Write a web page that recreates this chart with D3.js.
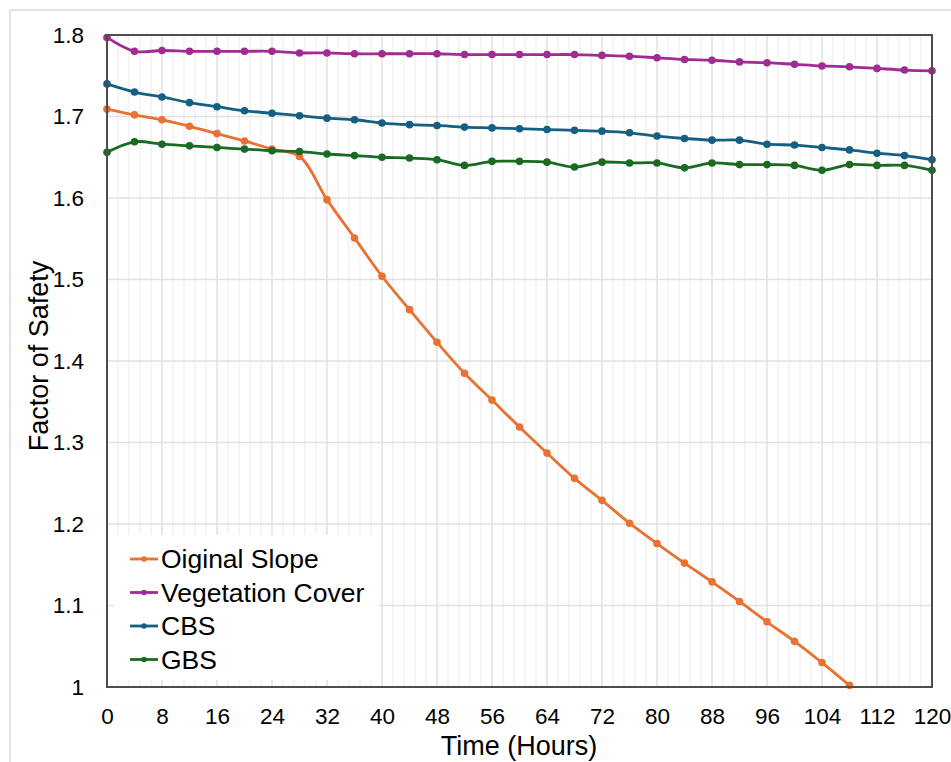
<!DOCTYPE html>
<html>
<head>
<meta charset="utf-8">
<script src="https://cdn.jsdelivr.net/npm/d3@7"></script>
<style>
  body { margin: 0; background: #fff; }
  text { font-family: "Liberation Sans", Arial, sans-serif; fill: #000; }
</style>
</head>
<body>
<div id="chart"></div>
<script>
// data
var hours = [0, 4, 8, 12, 16, 20, 24, 28, 32, 36, 40, 44, 48, 52, 56, 60, 64, 68, 72, 76, 80, 84, 88, 92, 96, 100, 104, 108, 112, 116, 120];

var originalSlope = [1.709, 1.702, 1.696, 1.688, 1.679, 1.670, 1.660, 1.651, 1.598, 1.551, 1.504, 1.463, 1.423, 1.385, 1.352, 1.319, 1.287, 1.256, 1.229, 1.201, 1.176, 1.152, 1.129, 1.105, 1.080, 1.056, 1.030, 1.002];
var vegetationCover = [1.797, 1.780, 1.781, 1.780, 1.780, 1.780, 1.780, 1.778, 1.778, 1.777, 1.777, 1.777, 1.777, 1.776, 1.776, 1.776, 1.776, 1.776, 1.775, 1.774, 1.772, 1.770, 1.769, 1.767, 1.766, 1.764, 1.762, 1.761, 1.759, 1.757, 1.756];
var cbs = [1.740, 1.730, 1.724, 1.717, 1.712, 1.707, 1.704, 1.701, 1.698, 1.696, 1.692, 1.690, 1.689, 1.687, 1.686, 1.685, 1.684, 1.683, 1.682, 1.680, 1.676, 1.673, 1.671, 1.671, 1.666, 1.665, 1.662, 1.659, 1.655, 1.652, 1.647];
var gbs = [1.656, 1.669, 1.666, 1.664, 1.662, 1.660, 1.658, 1.657, 1.654, 1.652, 1.650, 1.649, 1.647, 1.640, 1.645, 1.645, 1.644, 1.638, 1.644, 1.643, 1.643, 1.637, 1.643, 1.641, 1.641, 1.640, 1.634, 1.641, 1.640, 1.640, 1.634];

var seriesNames = ["Oiginal Slope", "Vegetation Cover", "CBS", "GBS"];
var seriesValues = [originalSlope, vegetationCover, cbs, gbs];
var seriesColors = ["#E97132", "#A02B93", "#156082", "#196B24"];

var xTicks = [0, 8, 16, 24, 32, 40, 48, 56, 64, 72, 80, 88, 96, 104, 112, 120];
var yTicks = [1, 1.1, 1.2, 1.3, 1.4, 1.5, 1.6, 1.7, 1.8];

//svg and chart area
var svgWidth = 951;
var svgHeight = 762;

var margin = {
    top: 35,
    right: 19,
    bottom: 75,
    left: 107
};

var width = svgWidth - margin.left - margin.right;
var height = svgHeight - margin.top - margin.bottom;

var svg = d3.select("#chart")
    .append("svg")
    .attr("width", svgWidth)
    .attr("height", svgHeight);

// outer chart frame (runs off the page on the right and bottom)
svg.append("rect")
    .attr("x", 10)
    .attr("y", 10)
    .attr("width", 1000)
    .attr("height", 800)
    .attr("fill", "none")
    .attr("stroke", "#d9d9d9")
    .attr("stroke-width", 1.5);

var chartGroup = svg.append("g")
    .attr("transform", `translate(${margin.left}, ${margin.top})`);

var xScale = d3.scaleLinear()
    .domain([0, 120])
    .range([0, width]);

var yScale = d3.scaleLinear()
    .domain([1, 1.8])
    .range([height, 0]);

// minor vertical gridlines (major / 5)
var minorTicks = d3.range(0, 76).map(i => i * 1.6);
chartGroup.append("g")
    .selectAll("line")
    .data(minorTicks)
    .enter()
    .append("line")
    .attr("x1", d => xScale(d))
    .attr("x2", d => xScale(d))
    .attr("y1", 0)
    .attr("y2", height)
    .attr("stroke", "#eeeeee")
    .attr("stroke-width", 1.2);

// major gridlines
chartGroup.append("g")
    .selectAll("line")
    .data(xTicks)
    .enter()
    .append("line")
    .attr("x1", d => xScale(d))
    .attr("x2", d => xScale(d))
    .attr("y1", 0)
    .attr("y2", height)
    .attr("stroke", "#e1e1e1")
    .attr("stroke-width", 1.3);

chartGroup.append("g")
    .selectAll("line")
    .data(yTicks)
    .enter()
    .append("line")
    .attr("x1", 0)
    .attr("x2", width)
    .attr("y1", d => yScale(d))
    .attr("y2", d => yScale(d))
    .attr("stroke", "#e1e1e1")
    .attr("stroke-width", 1.3);

// axes (labels only, box drawn after)
var bottomAxis = d3.axisBottom(xScale)
    .tickValues(xTicks)
    .tickSize(0)
    .tickPadding(21)
    .tickFormat(d3.format("d"));

var leftAxis = d3.axisLeft(yScale)
    .tickValues(yTicks)
    .tickSize(0)
    .tickPadding(23)
    .tickFormat(d => d === 1 ? "1" : d3.format(".1f")(d));

var xAxisG = chartGroup.append("g")
    .attr("transform", `translate(0, ${height})`)
    .call(bottomAxis);

var yAxisG = chartGroup.append("g")
    .call(leftAxis);

[xAxisG, yAxisG].forEach(function (g) {
    g.select(".domain").remove();
    g.selectAll("text")
        .style("font-size", "22.5px")
        .style("font-family", "Liberation Sans, Arial, sans-serif")
        .attr("fill", "#000");
});

// legend background hides gridlines under it
chartGroup.append("rect")
    .attr("x", 7)
    .attr("y", 500)
    .attr("width", 265)
    .attr("height", 145)
    .attr("fill", "#fff");

// lines and markers
var line = d3.line()
    .x((d, i) => xScale(hours[i]))
    .y(d => yScale(d))
    .curve(d3.curveCatmullRom.alpha(0.5));

seriesValues.forEach(function (vals, k) {
    chartGroup.append("path")
        .datum(vals)
        .attr("d", line)
        .attr("fill", "none")
        .attr("stroke", seriesColors[k])
        .attr("stroke-width", 2.8);

    chartGroup.append("g")
        .selectAll("circle")
        .data(vals)
        .enter()
        .append("circle")
        .attr("cx", (d, i) => xScale(hours[i]))
        .attr("cy", d => yScale(d))
        .attr("r", 3.8)
        .attr("fill", seriesColors[k]);
});

// plot box
chartGroup.append("rect")
    .attr("x", 0)
    .attr("y", 0)
    .attr("width", width)
    .attr("height", height)
    .attr("fill", "none")
    .attr("stroke", "#4d4d4d")
    .attr("stroke-width", 2);

// legend
var legend = chartGroup.append("g")
    .attr("transform", "translate(23, 524)");

seriesNames.forEach(function (name, k) {
    var row = legend.append("g")
        .attr("transform", `translate(0, ${k * 33.5})`);
    row.append("line")
        .attr("x1", 0)
        .attr("x2", 28)
        .attr("y1", 0)
        .attr("y2", 0)
        .attr("stroke", seriesColors[k])
        .attr("stroke-width", 2.8);
    row.append("circle")
        .attr("cx", 14)
        .attr("cy", 0)
        .attr("r", 2.8)
        .attr("fill", seriesColors[k]);
    row.append("text")
        .attr("x", 31)
        .attr("y", 9)
        .style("font-size", "26.5px")
        .text(name);
});

//axis titles
chartGroup.append("text")
    .attr("transform", "rotate(-90)")
    .attr("y", 48 - margin.left)
    .attr("x", 0 - (356 - margin.top))
    .style("text-anchor", "middle")
    .style("font-size", "27px")
    .text("Factor of Safety");

chartGroup.append("text")
    .attr("x", 519 - margin.left)
    .attr("y", 755 - margin.top)
    .style("text-anchor", "middle")
    .style("font-size", "27px")
    .text("Time (Hours)");
</script>
</body>
</html>
